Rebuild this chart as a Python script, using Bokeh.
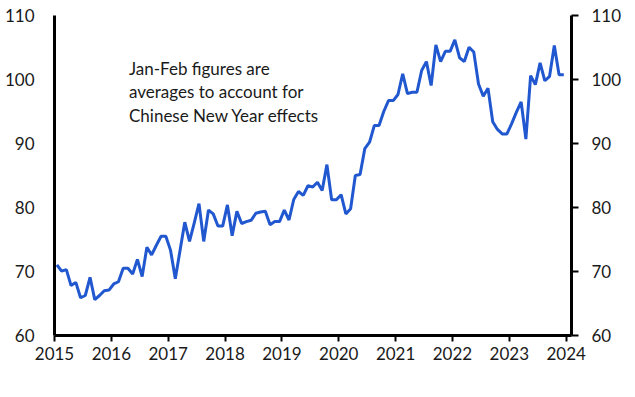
from bokeh.plotting import figure
from bokeh.models import Range1d, LinearAxis, FixedTicker, PrintfTickFormatter
from bokeh.core.properties import value
from bokeh.embed import file_html
from bokeh.resources import INLINE

# Monthly index, Jan 2015 - Dec 2023
start_year = 2015
values = [
    71.05, 70.05, 70.3, 67.8, 68.3, 65.9, 66.25, 69.1, 65.6, 66.25, 67.0, 67.1,
    68.05, 68.4, 70.5, 70.5, 69.6, 71.9, 69.2, 73.8, 72.6, 74.1, 75.5, 75.5,
    73.3, 68.85, 73.3, 77.7, 74.7, 77.6, 80.6, 74.7, 79.6, 79.0, 77.1, 77.1,
    80.4, 75.6, 79.4, 77.5, 77.8, 78.0, 79.1, 79.3, 79.4, 77.3, 77.8, 77.8,
    79.6, 78.05, 81.25, 82.5, 81.9, 83.4, 83.2, 83.95, 82.65, 86.7, 81.2, 81.2,
    82.0, 79.0, 79.8, 85.0, 85.15, 89.2, 90.2, 92.8, 92.8, 95.0, 96.7, 96.7,
    97.65, 100.9, 97.8, 98.0, 98.0, 101.4, 102.8, 99.05, 105.4, 102.8, 104.4, 104.4,
    106.2, 103.4, 102.8, 105.05, 104.3, 99.3, 97.4, 98.65, 93.4, 92.2, 91.5, 91.5,
    93.1, 94.9, 96.5, 90.7, 100.6, 99.2, 102.6, 99.8, 100.5, 105.3, 100.75, 100.75,
]
year_ticks = [2015, 2016, 2017, 2018, 2019, 2020, 2021, 2022, 2023, 2024]
y_ticks = [60, 70, 80, 90, 100, 110]
note_lines = [
    " Jan-Feb figures are",
    "averages to account for",
    "Chinese New Year effects",
]

# mid-month positions in decimal years
dates = [start_year + (i + 0.5) / 12 for i in range(len(values))]

FONT = "Lato"
TXT = "#1a1a1a"
BLUE = "#2158CF"

p = figure(
    frame_width=517, frame_height=320,
    min_border_left=54, min_border_right=46, min_border_top=15, min_border_bottom=40,
    x_range=Range1d(2015, 2024.094), y_range=Range1d(60, 110),
    output_backend="svg", toolbar_location=None,
)
p.outline_line_color = None
p.xgrid.visible = False
p.ygrid.visible = False
p.background_fill_color = "white"
p.border_fill_color = "white"

p.line(dates, values, line_color=BLUE, line_width=3)

p.text(
    x=[2016.31, 2016.31, 2016.31],
    y=[101.75, 98.05, 94.35],
    text=note_lines,
    text_font=value(FONT), text_font_size="17px", text_color=TXT,
    text_align="left", text_baseline="middle",
)

# x axis
xa = p.xaxis[0]
xa.ticker = FixedTicker(ticks=year_ticks)
xa.formatter = PrintfTickFormatter(format="%d")
xa.axis_line_width = 3
xa.axis_line_color = "black"
xa.major_tick_line_width = 2
xa.major_tick_line_color = "black"
xa.major_tick_in = 0
xa.major_tick_out = 6
xa.minor_tick_line_color = None
xa.major_label_text_font = FONT
xa.major_label_text_font_size = "17px"
xa.major_label_text_color = TXT
xa.major_label_standoff = 5

# left y axis
ya = p.yaxis[0]
ya.ticker = FixedTicker(ticks=y_ticks)
ya.axis_line_width = 3
ya.axis_line_color = "black"
ya.major_tick_line_color = None
ya.major_tick_in = 0
ya.major_tick_out = 0
ya.minor_tick_line_color = None
ya.major_label_text_font = FONT
ya.major_label_text_font_size = "17px"
ya.major_label_text_color = TXT
ya.major_label_standoff = 20

# right y axis
ra = LinearAxis(ticker=FixedTicker(ticks=y_ticks))
ra.axis_line_width = 3
ra.axis_line_color = "black"
ra.major_tick_line_width = 2
ra.major_tick_line_color = "black"
ra.major_tick_in = 0
ra.major_tick_out = 7
ra.minor_tick_line_color = None
ra.major_label_text_font = FONT
ra.major_label_text_font_size = "17px"
ra.major_label_text_color = TXT
ra.major_label_standoff = 13
p.add_layout(ra, "right")

open("out.html", "w").write(file_html(p, INLINE))
